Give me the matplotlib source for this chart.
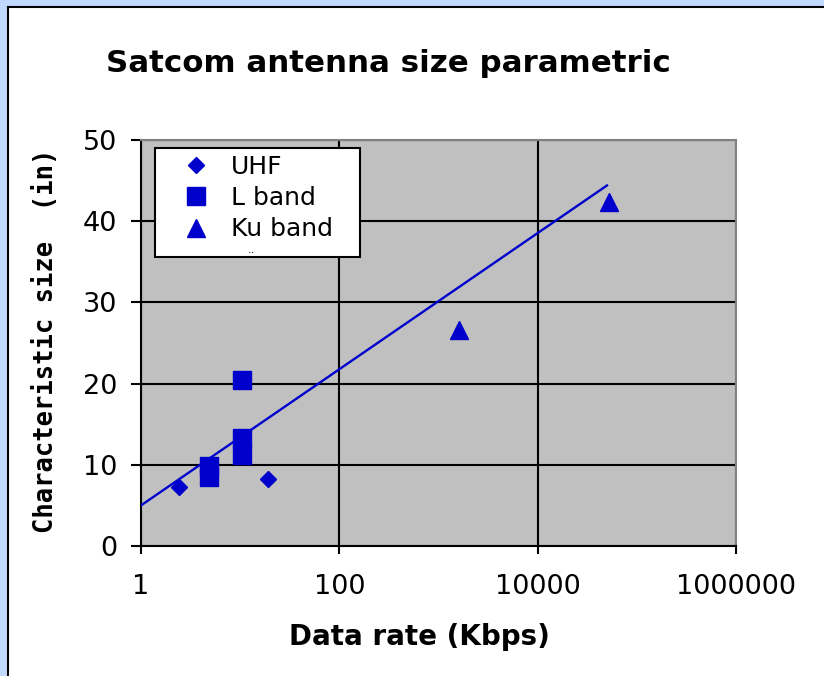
import numpy as np
import matplotlib
matplotlib.use('Agg')
import matplotlib.pyplot as plt
from matplotlib.patches import Rectangle
from matplotlib.ticker import FixedLocator, FuncFormatter, NullLocator

# values
uhf_rate = [2.4, 19.2]
uhf_size = [7.3, 8.2]

lband_rate = [4.8, 4.8, 10.5, 10.5, 10.5]
lband_size = [9.9, 8.5, 13.3, 11.2, 20.4]

ku_rate = [1600, 52000]
ku_size = [26.6, 42.4]

# log trend line (end points)
trend_rate = [1, 50000]
trend_size = [5.0, 44.4]

x_ticks = [1, 100, 10000, 1000000]
y_ticks = [0, 10, 20, 30, 40, 50]

blue = '#0000CC'
W, H = 824.0, 676.0

fig = plt.figure(figsize=(8.24, 6.76), dpi=100)
fig.patch.set_facecolor('white')

# frame: light blue strip on left/top with a black line
fig.patches.append(Rectangle((0, 0), 7 / W, 1, transform=fig.transFigure,
                             facecolor='#C2D9FF', edgecolor='none', zorder=0))
fig.patches.append(Rectangle((0, 1 - 6 / H), 1, 6 / H, transform=fig.transFigure,
                             facecolor='#C2D9FF', edgecolor='none', zorder=0))
fig.lines.append(plt.Line2D([8 / W, 8 / W], [0, 1 - 7 / H], transform=fig.transFigure,
                            color='black', lw=1.5))
fig.lines.append(plt.Line2D([8 / W, 1], [1 - 7 / H, 1 - 7 / H], transform=fig.transFigure,
                            color='black', lw=1.5))

# plot area in pixels: x 141..736, y 140..546
ax = fig.add_axes([141 / W, 1 - 546 / H, 595 / W, 406 / H])
ax.set_facecolor('#C0C0C0')
ax.set_xscale('log')
ax.set_xlim(1, 1000000)
ax.set_ylim(0, 50)

ax.xaxis.set_major_locator(FixedLocator(x_ticks))
ax.xaxis.set_minor_locator(NullLocator())
ax.xaxis.set_major_formatter(FuncFormatter(lambda v, p: '%d' % v))
ax.set_yticks(y_ticks)

ax.grid(True, color='black', lw=1.5)
ax.set_axisbelow(True)
for s in ['top', 'right']:
    ax.spines[s].set_color('#808080')
    ax.spines[s].set_linewidth(1.5)
for s in ['left', 'bottom']:
    ax.spines[s].set_color('black')
    ax.spines[s].set_linewidth(1.5)
ax.tick_params(width=1.5, labelsize=19.5, direction='out')
ax.tick_params(axis='y', length=7.2, pad=10)
ax.tick_params(axis='x', length=5.5, pad=15)

ax.plot(trend_rate, trend_size, color=blue, lw=1.7, zorder=3)
ax.plot(uhf_rate, uhf_size, 'D', color=blue, ms=7.8, ls='none', label='UHF', zorder=4)
ax.plot(lband_rate, lband_size, 's', color=blue, ms=13, ls='none', label='L band', zorder=4)
ax.plot(ku_rate, ku_size, '^', color=blue, ms=13, ls='none', label='Ku band', zorder=4)

# legend box drawn by hand (pixels 155..360 x 148..257)
box = Rectangle(((155 - 141) / 595, (546 - 257) / 406), 205 / 595, 109 / 406,
                transform=ax.transAxes, facecolor='white', edgecolor='black',
                lw=1.5, zorder=5)
ax.add_patch(box)
leg = ax.legend(loc='upper left', bbox_to_anchor=((155 - 141) / 595, (546 - 147) / 406),
                fontsize=18, frameon=False, borderpad=0.3, labelspacing=0.3,
                handletextpad=0.05, borderaxespad=0, handlelength=2.7)
leg.set_zorder(6)
# leftover of a clipped legend entry
ax.text((251 - 141) / 595, (546 - 253) / 406, '..', transform=ax.transAxes,
        ha='center', va='baseline', fontsize=8, zorder=7)

fig.text(388 / W, 1 - 64 / H, 'Satcom antenna size parametric', ha='center', va='center',
         fontsize=22.2, fontweight='bold')
fig.text(419 / W, 1 - 637 / H, 'Data rate (Kbps)', ha='center', va='center',
         fontsize=20, fontweight='bold')
fig.text(46 / W, 1 - 341 / H, 'Characteristic size  (in)', ha='center', va='center',
         rotation=90, fontsize=18.4, fontweight='bold', family='DejaVu Sans Mono')

fig.savefig('out.png', dpi=100)
